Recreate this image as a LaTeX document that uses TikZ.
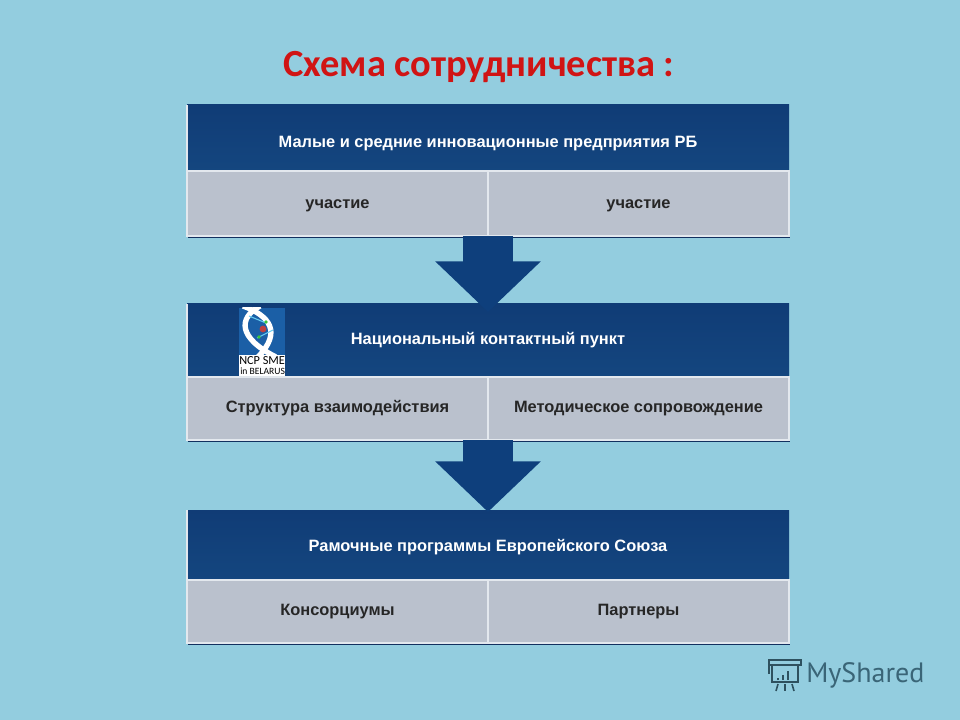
\documentclass[tikz,border=0pt]{standalone}
\usepackage{fontspec}
\setmainfont{Liberation Sans}
\newfontfamily\titlefont{Carlito}
\newfontfamily\markfont{PT Sans}
\newfontfamily\logofont{Carlito}
\usepackage{tikz}
\usetikzlibrary{arrows.meta,positioning,shadows,calc}

\definecolor{slidebg}{HTML}{93CDDF}
\definecolor{headblue}{HTML}{14467F}
\definecolor{headtop}{HTML}{103C76}
\definecolor{cellgray}{HTML}{BAC1CD}
\definecolor{cellline}{HTML}{E3E8EE}
\definecolor{titlered}{HTML}{D01414}
\definecolor{arrowblue}{HTML}{0E3F7C}
\definecolor{shadownavy}{HTML}{12305F}
\definecolor{logoblue}{HTML}{1B5FA6}
\definecolor{markgray}{HTML}{3A6577}

\begin{document}
\begin{tikzpicture}[
		x=0.75pt, y=-0.75pt,
		basic/.style  = {rectangle, inner sep=0pt, outer sep=0pt, font=\bfseries\fontsize{12.3}{14}\selectfont},
		headbox/.style = {basic, text=white, top color=headtop, bottom color=headblue, minimum width=451.5pt},
		cellbox/.style = {basic, text=black!85, draw=cellline, line width=1.2pt, fill=cellgray, minimum width=225.75pt, drop shadow={shadow xshift=0.4pt, shadow yshift=-1.8pt, fill=shadownavy, opacity=1}},
		flowarrow/.style = {-{Triangle[length=38pt,width=77pt]}, line width=37.5pt, draw=arrowblue},
		edgeline/.style = {draw=cellline, line width=1pt}]
		
		% Slide background
		\fill[slidebg] (0,0) rectangle (960,720);
		\useasboundingbox (0,0) rectangle (960,720);
		
		% Title
		\node[font=\titlefont\bfseries\fontsize{28.8}{34}\selectfont, text=titlered] (title) at (479,67) {Схема сотрудничества :};
		
		% First block
		\node[headbox, minimum height=49.5pt, below right=0pt and 0pt of {(187,105)}] (m1) {\raisebox{-7pt}[0pt][0pt]{Малые и средние инновационные предприятия РБ}};
		\node[cellbox, minimum height=48.75pt, below right=0pt and 0pt of m1.south west] (c11) {\raisebox{-4pt}[0pt][0pt]{участие}};
		\node[cellbox, minimum height=48.75pt, right=0pt of c11] (c12) {\raisebox{-4pt}[0pt][0pt]{участие}};
		
		% Second block
		\node[headbox, minimum height=54.75pt, below right=0pt and 0pt of {(187,304)}] (m2) {Национальный контактный пункт};
		\node[cellbox, minimum height=47.25pt, below right=0pt and 0pt of m2.south west] (c21) {Структура взаимодействия};
		\node[cellbox, minimum height=47.25pt, right=0pt of c21] (c22) {Методическое сопровождение};
		
		% Third block
		\node[headbox, minimum height=52.5pt, below right=0pt and 0pt of {(187,510)}] (m3) {\raisebox{-5pt}[0pt][0pt]{Рамочные программы Европейского Союза}};
		\node[cellbox, minimum height=47.25pt, below right=0pt and 0pt of m3.south west] (c31) {Консорциумы};
		\node[cellbox, minimum height=47.25pt, right=0pt of c31] (c32) {Партнеры};
		
		% Light left edge of the blue heads
		\foreach \value in {1,2,3}
		\draw[edgeline] (m\value.north west) -- (m\value.south west);
		
		% Arrows between the blocks
		\foreach \value/\next/\tipshift in {1/2/-6pt,2/3/-1.5pt}
		\draw[flowarrow] (c\value1.south east) -- ([yshift=\tipshift]m\next.north);
		
		% Logo on the second block
		\begin{scope}
			\clip (239,308) rectangle (285,376);
			\fill[white] (239,308) rectangle (285,376);
			\fill[logoblue] (239,308) rectangle (285,355);
			\draw[white, line width=4pt] (243,306) .. controls (270,316) and (282,332) .. (258,357);
			\draw[white, line width=4pt] (260,306) .. controls (238,318) and (238,338) .. (276,357);
			\draw[cyan!60, line width=0.8pt] (249,316) -- (266,323);
			\draw[cyan!60, line width=0.8pt] (257,338) -- (273,330);
			\fill[green!55!gray] (266,322) circle (1.8);
			\fill[green!55!gray] (259,337) circle (1.8);
			\fill[red!50!gray] (263,329) circle (3.4);
			\node[font=\logofont\fontsize{9.2}{10}\selectfont, text=black, inner sep=0pt, anchor=west] (logo1) at (239,361) {NCP SME};
			\node[font=\logofont\fontsize{7.2}{8}\selectfont, text=black, inner sep=0pt, anchor=west] (logo2) at (240,371) {in BELARUS};
		\end{scope}
		
		% Watermark
		\node[font=\markfont\fontsize{21}{25}\selectfont, text=markgray, inner sep=0pt, anchor=west] (mark) at (806,675) {MyShared};
		\begin{scope}[draw=markgray!80!black, line width=1.2pt]
			\draw (772,664) -- (772,682) -- (798,682) -- (798,664);
			\draw (769,660) rectangle (801,665);
			\draw (769,660) -- (769,674);
			\foreach \xpos/\ypos in {778/678,783/675,788/671}
			\draw[line width=1.8pt] (\xpos,680) -- (\xpos,\ypos);
			\draw (778,684) -- (776,691);
			\draw (785,684) -- (785,691);
			\draw (792,684) -- (794,691);
		\end{scope}
		
	\end{tikzpicture}
\end{document}
